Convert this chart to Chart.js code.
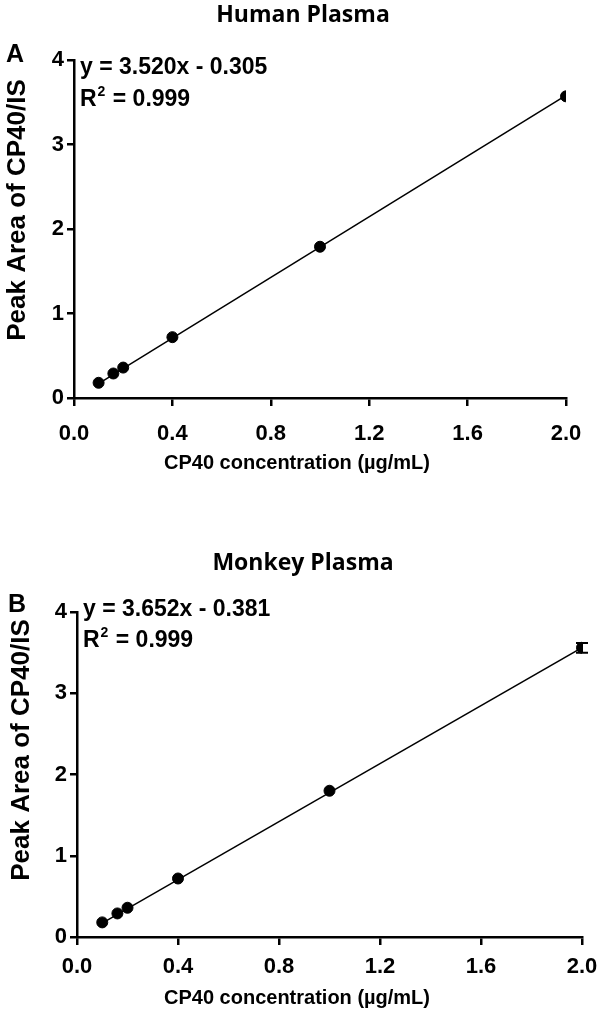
<!DOCTYPE html>
<html>
<head>
  <meta charset="UTF-8">
  <title>CP40 calibration curves</title>
  <script src="https://cdn.jsdelivr.net/npm/chart.js@4.4.1/dist/chart.umd.min.js"></script>
  <style>
    body { margin: 0; background: #fff; }
    .panel { position: absolute; left: 0; width: 597px; }
    #top { top: 0; height: 505px; }
    #bottom { top: 505px; height: 507px; }
  </style>
</head>
<body>
  <div class="panel" id="top"><canvas id="humanChart"></canvas></div>
  <div class="panel" id="bottom"><canvas id="monkeyChart"></canvas></div>

  <script>
    // concentrations (µg/mL) and peak area ratios
    const concentrations = [0.1, 0.16, 0.2, 0.4, 1.0, 2.0];
    const humanArea = [0.18, 0.29, 0.36, 0.72, 1.79, 3.57];
    const monkeyArea = [0.18, 0.29, 0.36, 0.72, 1.80, 3.56];
    const monkeyErr = [0, 0, 0, 0, 0, 0.06];

    // fitted line end points
    const fitX = [0.1, 2.0];
    const humanFit = [0.17, 3.58];
    const monkeyFit = [0.17, 3.56];

    const xTicks = [0.0, 0.4, 0.8, 1.2, 1.6, 2.0];
    const yTicks = [0, 1, 2, 3, 4];

    const tickFont = { family: 'Liberation Sans', weight: 'bold', size: 22 };

    // panel title, letter, equation, R², axis titles and error bars
    const annotate = {
      id: 'annotate',
      afterDatasetsDraw(chart, args, opts) {
        const c = chart.ctx;
        const area = chart.chartArea;
        c.save();
        c.fillStyle = '#000';
        c.textBaseline = 'middle';

        c.textAlign = 'center';
        c.font = 'bold 23px "Open Sans"';
        c.fillText(opts.title, 303, opts.titleY);

        c.textAlign = 'left';
        c.font = 'bold 25px "Liberation Sans"';
        c.fillText(opts.letter, opts.letterX, opts.letterY);

        c.font = 'bold 23px "Liberation Sans"';
        const x0 = area.left + 6;
        c.fillText(opts.equation, x0, opts.eqY);
        const y2 = opts.eqY + opts.lineGap;
        c.fillText('R', x0, y2);
        const rw = c.measureText('R').width;
        c.font = 'bold 14px "Liberation Sans"';
        c.fillText('2', x0 + rw + 1, y2 - 8);
        const sw = c.measureText('2').width;
        c.font = 'bold 23px "Liberation Sans"';
        c.fillText(' = 0.999', x0 + rw + sw + 2, y2);

        // axis titles
        c.textAlign = 'center';
        c.font = 'bold 20px "Liberation Sans"';
        c.fillText('CP40 concentration (µg/mL)', 297, opts.xTitleY);
        c.save();
        c.translate(opts.yTitleX, opts.yTitleY);
        c.rotate(-Math.PI / 2);
        c.font = 'bold 26px "Liberation Sans"';
        c.fillText('Peak Area of CP40/IS', 0, 0);
        c.restore();

        if (opts.errors) {
          const xs = chart.scales.x, ys = chart.scales.y;
          c.strokeStyle = '#000';
          c.lineWidth = 2;
          opts.errors.forEach((e, i) => {
            if (!e) return;
            const px = xs.getPixelForValue(concentrations[i]);
            const top = ys.getPixelForValue(opts.values[i] + e);
            const bot = ys.getPixelForValue(opts.values[i] - e);
            c.beginPath();
            c.moveTo(px, top); c.lineTo(px, bot);
            c.moveTo(px - 6, top); c.lineTo(px + 6, top);
            c.moveTo(px - 6, bot); c.lineTo(px + 6, bot);
            c.stroke();
          });
        }
        c.restore();
      }
    };

    function makeChart(id, cfg) {
      const points = concentrations.map((x, i) => ({ x: x, y: cfg.values[i] }));
      const fit = fitX.map((x, i) => ({ x: x, y: cfg.fit[i] }));
      return new Chart(document.getElementById(id), {
        type: 'scatter',
        data: {
          datasets: [
            { data: fit, showLine: true, borderColor: '#000', borderWidth: 1.5, pointRadius: 0 },
            { data: points, backgroundColor: '#000', borderColor: '#000', pointRadius: 5.5 }
          ]
        },
        options: {
          responsive: true,
          maintainAspectRatio: false,
          animation: false,
          layout: { padding: cfg.padding },
          plugins: {
            legend: { display: false },
            tooltip: { enabled: false },
            title: { display: false },
            annotate: {
              title: cfg.title, titleY: cfg.titleY,
              letter: cfg.letter, letterX: cfg.letterX, letterY: cfg.letterY,
              equation: cfg.equation, eqY: cfg.eqY, lineGap: cfg.lineGap,
              xTitleY: cfg.xTitleY, yTitleX: cfg.yTitleX, yTitleY: cfg.yTitleY,
              errors: cfg.errors, values: cfg.values
            }
          },
          scales: {
            x: {
              type: 'linear',
              min: 0, max: 2,
              afterBuildTicks: s => { s.ticks = xTicks.map(v => ({ value: v })); },
              afterFit: s => { s.height = cfg.xHeight; s.paddingRight = 0; s.paddingLeft = 0; },
              ticks: { color: '#000', font: tickFont, padding: cfg.xTickPad,
                       callback: v => v.toFixed(1), maxRotation: 0 },
              grid: { drawOnChartArea: false, drawTicks: true, tickLength: 8,
                      lineWidth: 2.5, color: '#000' },
              border: { display: true, width: 2.5, color: '#000' }
            },
            y: {
              type: 'linear',
              min: 0, max: 4,
              afterBuildTicks: s => { s.ticks = yTicks.map(v => ({ value: v })); },
              afterFit: s => { s.width = cfg.yWidth; },
              ticks: { color: '#000', font: tickFont, padding: 3 },
              grid: { drawOnChartArea: false, drawTicks: true, tickLength: 7,
                      lineWidth: 2.5, color: '#000' },
              border: { display: true, width: 2.5, color: '#000' }
            }
          }
        },
        plugins: [annotate]
      });
    }

    makeChart('humanChart', {
      title: 'Human Plasma', titleY: 15, values: humanArea, fit: humanFit,
      letter: 'A', letterX: 6, letterY: 55,
      equation: 'y = 3.520x - 0.305', eqY: 68, lineGap: 32,
      xTitleY: 463, yTitleX: 18, yTitleY: 210,
      padding: { left: 6, right: 31, top: 60, bottom: 30 },
      yWidth: 68, xHeight: 77, xTickPad: 15
    });

    makeChart('monkeyChart', {
      title: 'Monkey Plasma', titleY: 58, values: monkeyArea, fit: monkeyFit,
      errors: monkeyErr,
      letter: 'B', letterX: 8, letterY: 100,
      equation: 'y = 3.652x - 0.381', eqY: 105, lineGap: 31,
      xTitleY: 493, yTitleX: 22, yTitleY: 245,
      padding: { left: 10, right: 15, top: 107, bottom: 2 },
      yWidth: 67, xHeight: 73, xTickPad: 9
    });
  </script>
</body>
</html>
